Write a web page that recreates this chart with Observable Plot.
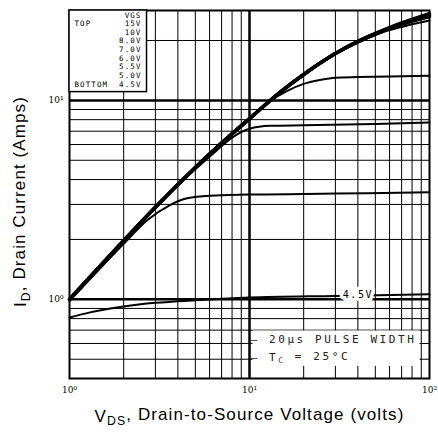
<!DOCTYPE html>
<html><head><meta charset="utf-8">
<script src="https://cdn.jsdelivr.net/npm/d3@7"></script>
<script src="https://cdn.jsdelivr.net/npm/@observablehq/plot@0.6"></script>
<style>body{margin:0;background:#fff}</style>
</head><body><div id="chart"></div>
<script>
// ---- data ----
const vgsLevels = ["15V","10V","8.0V","7.0V","6.0V","5.5V","5.0V","4.5V"];
const vds15 = [1,2,3,5,7,10,15,20,30,40,55,70,100];
const id15  = [1.0,1.97,2.9,4.6,6.1,8.1,11.1,13.5,17.2,19.8,22.5,24.5,27.3];
const vds10 = [1,2,3,5,7,10,15,20,30,40,55,70,100];
const id10  = [1.0,1.97,2.9,4.6,6.1,8.1,11.1,13.5,17.2,19.8,22.4,24.3,26.9];
const vds8  = [1,2,3,5,7,10,15,20,30,40,55,70,100];
const id8   = [1.0,1.97,2.9,4.6,6.1,8.1,11.1,13.5,17.2,19.7,22.3,24.1,26.4];
const vds7  = [1,2,3,5,7,10,15,20,30,40,55,70,85,100];
const id7   = [1.0,1.97,2.9,4.6,6.1,8.1,11.1,13.5,17.1,19.5,22.0,23.4,24.4,25.2];
const vds6  = [1,2,3,5,7,10,13,16,20,25,30,40,60,100];
const id6   = [1.0,1.97,2.9,4.6,6.1,8.0,9.9,11.1,12.1,12.7,13.0,13.1,13.2,13.3];
const vds55 = [1,2,3,5,6.5,8,10,13,20,50,100];
const id55  = [1.0,1.96,2.88,4.5,5.55,6.5,7.2,7.45,7.5,7.6,7.75];
const vds5  = [1,2,2.7,3.6,4.5,6,10,30,100];
const id5   = [0.98,1.9,2.5,2.97,3.22,3.32,3.36,3.4,3.45];
const vds45 = [1,1.3,2,3,5,10,30,40,100];
const id45  = [0.81,0.86,0.92,0.96,0.99,1.02,1.04,1.045,1.06];
const label45At = 40; // V where the 4.5V label sits

const majorX = [10];
const minorX = [2,3,4,5,6,7,8,9,20,30,40,50,60,70,80,90];
const majorY = [1,10];
const minorY = [0.5,0.6,0.7,0.8,0.9,2,3,4,5,6,7,8,9,20];
const xTicks = [1,10,100];
const yTicks = [1,10];
const sup = {"0":"⁰","1":"¹","2":"²"};
const tickFmt = d => "10" + sup[String(Math.round(Math.log10(d)))];

const seriesList = [
  ["15V", vds15, id15], ["10V", vds10, id10], ["8.0V", vds8, id8], ["7.0V", vds7, id7],
  ["6.0V", vds6, id6], ["5.5V", vds55, id55], ["5.0V", vds5, id5], ["4.5V", vds45, id45]
];
const table = seriesList.flatMap(([vgs, xs, ys]) => xs.map((v, i) => ({vgs, vds: v, id: ys[i]})));
const thick = ["15V","10V","8.0V"];
const labelPoint = table.filter(d => d.vgs === "4.5V" && d.vds === label45At);

const mono = "DejaVu Sans Mono";
const svg = Plot.plot({
  width: 438, height: 435,
  marginLeft: 69, marginRight: 9, marginTop: 10, marginBottom: 57,
  x: {type: "log", domain: [1, 100]},
  y: {type: "log", domain: [0.4, 28.3]},
  style: {background: "#fff"},
  marks: [
    Plot.ruleX(minorX, {stroke: "#000", strokeWidth: 1}),
    Plot.ruleY(minorY, {stroke: "#000", strokeWidth: 1}),
    Plot.ruleX(majorX, {stroke: "#000", strokeWidth: 2.5}),
    Plot.ruleY(majorY, {stroke: "#000", strokeWidth: 2.5}),
    Plot.frame({stroke: "#000", strokeWidth: 2}),
    Plot.line(table.filter(d => !thick.includes(d.vgs)), {x: "vds", y: "id", z: "vgs", stroke: "#000", strokeWidth: 2, curve: "monotone-x"}),
    Plot.line(table.filter(d => thick.includes(d.vgs)), {x: "vds", y: "id", z: "vgs", stroke: "#000", strokeWidth: 3.5, curve: "monotone-x"}),
    Plot.text(labelPoint, {x: "vds", y: "id", text: "vgs", dy: -1, fontFamily: mono, fontSize: 10, fill: "#000", stroke: "#fff", strokeWidth: 7, ariaDescription: "vgs-label"}),
    Plot.text(["— 20μs PULSE WIDTH"], {frameAnchor: "bottom-left", dx: 181, dy: -36, textAnchor: "start", fontFamily: mono, fontSize: 11, fill: "#222", ariaDescription: "pulse"}),
    Plot.text(["— TC = 25°C"], {frameAnchor: "bottom-left", dx: 181, dy: -18, textAnchor: "start", fontFamily: mono, fontSize: 11, fill: "#222", ariaDescription: "tc"}),
    Plot.text([["VGS", ...vgsLevels].join("\n")], {frameAnchor: "top-left", dx: 72, dy: 1, textAnchor: "end", lineAnchor: "top", lineHeight: 1.15, fontFamily: mono, fontSize: 7.5, fill: "#000", ariaDescription: "legend-r"}),
    Plot.text(["\nTOP\n\n\n\n\n\n\nBOTTOM"], {frameAnchor: "top-left", dx: 5, dy: 1, textAnchor: "start", lineAnchor: "top", lineHeight: 1.15, fontFamily: mono, fontSize: 7.5, fill: "#000", ariaDescription: "legend-l"}),
    Plot.axisX(xTicks, {tickSize: 0, tickPadding: 8, tickFormat: tickFmt, fontSize: 9, fontFamily: "DejaVu Serif", label: null}),
    Plot.axisY(yTicks, {tickSize: 0, tickPadding: 6, tickFormat: tickFmt, fontSize: 9, fontFamily: "DejaVu Serif", label: null}),
    Plot.text(["VDS, Drain-to-Source Voltage (volts)"], {frameAnchor: "bottom", dy: 43, textAnchor: "middle", fontFamily: "Liberation Sans", fontSize: 17, fill: "#000", ariaDescription: "x-title"}),
    Plot.text(["ID, Drain Current (Amps)"], {frameAnchor: "left", dx: -49, dy: 7, rotate: -90, textAnchor: "middle", fontFamily: "Liberation Sans", fontSize: 17, fill: "#000", ariaDescription: "y-title"})
  ]
});
document.getElementById("chart").append(svg);
const NS = "http://www.w3.org/2000/svg";
const G = d => svg.querySelector(`g[aria-description="${d}"]`);

// subscripts
function subscript(label, head, subTxt, tail) {
  const g = G(label); if (!g) return;
  const t = g.querySelector("text"); if (!t) return;
  t.textContent = "";
  const a = document.createElementNS(NS, "tspan"); a.textContent = head;
  const b = document.createElementNS(NS, "tspan"); b.textContent = subTxt;
  b.setAttribute("font-size", "0.72em"); b.setAttribute("dy", "0.3em");
  const c = document.createElementNS(NS, "tspan"); c.textContent = tail; c.setAttribute("dy", "-0.3em");
  t.append(a, b, c);
}
subscript("x-title", "V", "DS", ", Drain-to-Source Voltage (volts)");
subscript("y-title", "I", "D", ", Drain Current (Amps)");
subscript("tc", "— T", "C", " = 25°C");
for (const [lab, ls] of [["pulse","2.6"],["tc","2.6"],["vgs-label","1.6"],["legend-r","1.1"],["legend-l","1.1"],["x-title","1.1"],["y-title","1.1"]]) {
  const g = G(lab); if (g) g.setAttribute("letter-spacing", ls);
}
const sr = svg.getBoundingClientRect();
function boxBehind(labels, opts) {
  const gs = labels.map(G).filter(Boolean);
  if (!gs.length) return;
  const rs = gs.map(g => g.getBoundingClientRect());
  let l = Math.min(...rs.map(r => r.left)) - sr.left, t = Math.min(...rs.map(r => r.top)) - sr.top;
  let r = Math.max(...rs.map(r => r.right)) - sr.left, b = Math.max(...rs.map(r => r.bottom)) - sr.top;
  if (opts.left != null) l = opts.left; if (opts.top != null) t = opts.top;
  r += opts.padR || 0; b += opts.padB || 0; l -= opts.padL || 0; t -= opts.padT || 0;
  const rect = document.createElementNS(NS, "rect");
  rect.setAttribute("x", l); rect.setAttribute("y", t);
  rect.setAttribute("width", r - l); rect.setAttribute("height", b - t);
  rect.setAttribute("fill", "#fff");
  if (opts.stroke) { rect.setAttribute("stroke", "#000"); rect.setAttribute("stroke-width", opts.stroke); }
  gs[0].parentNode.insertBefore(rect, gs[0]);
}
const x0 = svg.scale("x").apply(1), y0 = svg.scale("y").apply(28.3);
boxBehind(["pulse", "tc"], {padL: -2, padR: 3, padT: 2, padB: 1});
boxBehind(["legend-r", "legend-l"], {left: x0, top: y0, padR: 5, padB: 3, stroke: 1.5});
</script></body></html>
